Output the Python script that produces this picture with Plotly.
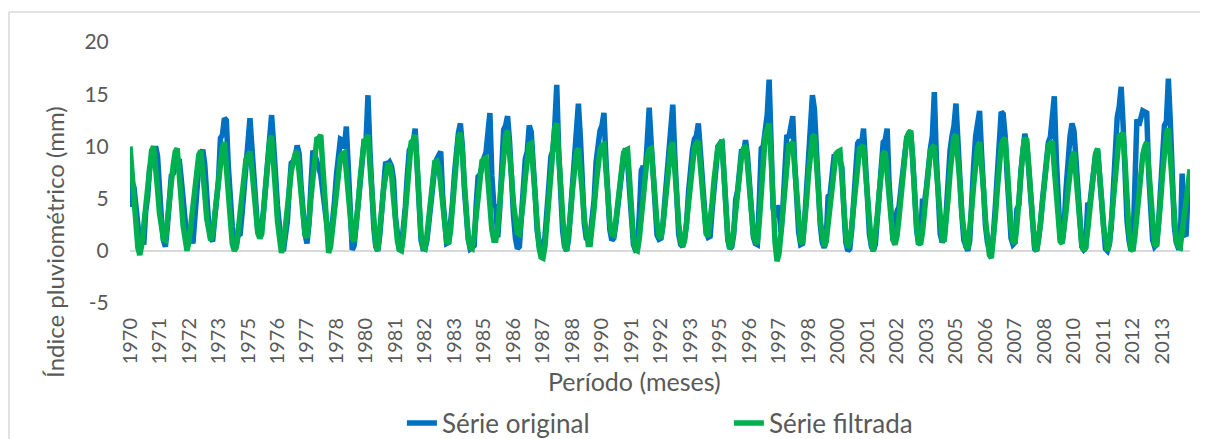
import plotly.graph_objects as go

# índice pluviométrico mensal (mm), jan/1970 a dez/2014
serie_original = [
    4.2, 6.6, 6.1, 4.0, 1.8, 0.7, 1.4, 0.6, 3.8, 5.2, 8.0, 8.3,        # 1970
    9.2, 10.0, 9.1, 5.3, 3.0, 1.0, 0.4, 2.3, 4.6, 7.2, 7.4, 8.1,       # 1971
    8.0, 8.8, 7.0, 4.6, 2.1, 1.0, 1.3, 2.0, 0.7, 3.5, 6.0, 8.2,        # 1972
    9.1, 9.7, 8.3, 5.0, 2.6, 1.2, 0.9, 2.9, 4.8, 6.8, 10.8, 11.1,      # 1973
    12.7, 12.5, 8.1, 4.7, 2.3, 1.0, 0.4, 1.5, 1.6, 3.6, 5.9, 8.2,      # 1974
    9.6, 12.7, 9.9, 6.4, 4.0, 1.8, 1.5, 2.2, 4.1, 6.8, 8.9, 11.2,      # 1975
    13.0, 10.3, 6.7, 4.3, 2.4, 0.4, 0.0, 1.2, 2.8, 5.9, 8.4, 8.6,      # 1976
    9.0, 10.1, 9.3, 6.2, 3.4, 1.6, 0.7, 2.6, 6.2, 9.6, 9.2, 8.3,       # 1977
    7.9, 7.3, 5.6, 3.4, 1.8, 1.1, 0.9, 2.5, 4.8, 7.3, 9.2, 10.7,       # 1978
    10.6, 9.8, 11.9, 7.4, 2.8, 0.1, 0.5, 2.6, 4.4, 6.1, 9.3, 10.4,     # 1979
    10.4, 14.9, 9.6, 5.3, 2.1, 0.4, 0.0, 1.5, 3.9, 6.2, 8.5, 8.3,      # 1980
    8.5, 8.1, 6.8, 3.2, 1.1, 0.0, 0.3, 1.8, 4.2, 7.2, 9.6, 10.1,       # 1981
    10.4, 11.7, 7.8, 3.9, 1.0, 0.2, 0.2, 1.0, 2.9, 5.1, 7.3, 8.0,      # 1982
    8.8, 9.2, 9.5, 5.2, 1.8, 0.7, 0.8, 2.5, 4.6, 7.4, 10.1, 11.3,      # 1983
    12.2, 10.0, 6.0, 3.0, 1.1, 0.2, 0.4, 0.5, 4.3, 7.1, 7.3, 8.4,      # 1984
    8.9, 9.4, 11.0, 13.2, 7.2, 4.4, 4.2, 1.3, 4.0, 7.8, 11.6, 12.0,    # 1985
    12.9, 10.5, 5.8, 3.4, 1.2, 0.2, 0.4, 3.6, 6.4, 8.8, 9.5, 12.0,     # 1986
    11.4, 8.9, 5.4, 2.0, 0.6, 0.5, 0.7, 1.3, 3.3, 6.3, 9.0, 9.6,       # 1987
    12.0, 15.9, 9.4, 5.0, 1.9, 0.4, 0.0, 1.1, 3.6, 6.3, 9.8, 11.5,     # 1988
    14.1, 10.9, 5.5, 2.6, 1.2, 1.0, 1.4, 2.9, 4.9, 8.5, 10.2, 11.5,    # 1989
    12.0, 13.2, 8.8, 4.3, 2.0, 1.0, 1.2, 2.5, 4.2, 6.4, 7.8, 9.1,      # 1990
    9.8, 8.7, 5.8, 3.0, 0.6, 0.1, 0.2, 3.5, 7.7, 8.1, 7.5, 10.4,       # 1991
    13.7, 10.4, 6.6, 3.7, 1.5, 1.1, 1.2, 2.6, 4.9, 7.4, 10.2, 11.6,    # 1992
    14.0, 9.2, 4.6, 1.6, 0.6, 0.4, 1.2, 2.6, 5.6, 8.2, 9.6, 10.7,      # 1993
    11.0, 12.2, 9.6, 5.8, 3.0, 1.8, 1.3, 1.4, 3.9, 6.4, 8.5, 10.0,     # 1994
    10.2, 10.6, 7.5, 3.6, 1.0, 0.2, 0.4, 1.6, 4.9, 5.8, 7.9, 9.7,      # 1995
    9.5, 10.6, 9.1, 6.0, 3.2, 1.3, 0.7, 0.6, 4.8, 9.8, 10.0, 11.2,     # 1996
    13.0, 16.4, 8.2, 4.1, 3.2, 4.3, 4.0, 1.8, 4.2, 7.0, 11.1, 10.8,    # 1997
    11.6, 12.9, 8.4, 4.6, 1.8, 0.6, 0.7, 2.8, 5.6, 8.6, 12.4, 14.9,    # 1998
    13.6, 8.8, 5.0, 2.5, 0.8, 0.3, 1.0, 5.2, 5.4, 7.8, 9.0, 9.0,       # 1999
    9.2, 8.6, 8.0, 3.9, 0.8, 0.0, 0.2, 2.0, 4.4, 7.3, 10.3, 10.6,      # 2000
    10.2, 11.7, 7.6, 4.1, 1.6, 0.4, 0.0, 0.6, 3.2, 6.0, 8.7, 10.4,     # 2001
    10.6, 11.7, 6.4, 2.8, 1.0, 1.6, 3.8, 4.2, 5.6, 7.4, 9.3, 10.8,     # 2002
    11.1, 11.3, 8.9, 5.0, 2.0, 0.6, 1.0, 5.0, 4.6, 6.1, 8.6, 9.8,      # 2003
    11.0, 15.2, 9.0, 4.3, 1.6, 0.8, 1.2, 3.6, 7.0, 9.6, 11.0, 12.0,    # 2004
    14.1, 10.0, 6.2, 3.4, 1.0, 0.3, 0.0, 1.0, 6.1, 8.2, 11.0, 11.9,    # 2005
    13.4, 9.4, 5.2, 2.4, 0.8, 0.1, 0.0, 1.5, 4.2, 7.8, 10.6, 13.3,     # 2006
    13.1, 11.0, 7.2, 4.0, 1.2, 0.6, 0.8, 4.0, 4.4, 7.6, 9.6, 11.2,     # 2007
    10.3, 7.4, 4.2, 1.6, 0.2, 0.0, 1.0, 2.6, 4.9, 7.1, 9.2, 10.4,      # 2008
    10.9, 12.6, 14.8, 9.0, 5.5, 1.2, 0.8, 2.4, 6.0, 9.6, 11.0, 12.2,   # 2009
    11.5, 8.8, 5.5, 2.2, 0.4, 0.1, 0.3, 4.6, 4.3, 6.0, 7.9, 9.2,       # 2010
    9.6, 7.4, 4.6, 1.8, 0.2, 0.0, 0.6, 2.4, 6.0, 9.6, 12.8, 13.8,      # 2011
    15.7, 12.0, 6.8, 2.8, 1.0, 0.0, 0.4, 5.5, 12.6, 12.0, 13.0, 13.4,  # 2012
    13.3, 13.2, 7.4, 3.5, 1.0, 0.4, 0.6, 2.6, 5.8, 9.2, 12.0, 12.4,    # 2013
    16.5, 12.3, 6.0, 2.4, 0.8, 0.3, 0.3, 7.4, 1.6, 1.4, 5.5, 5.5,      # 2014
]

serie_filtrada = [
    10.0, 7.6, 4.8, 2.1, 0.3, -0.4, 0.6, 2.4, 4.5, 6.6, 8.3, 9.6,      # 1970
    10.0, 8.3, 5.9, 3.6, 1.9, 1.1, 1.0, 2.5, 4.5, 6.5, 8.2, 9.5,       # 1971
    9.8, 7.9, 5.0, 2.4, 0.6, 0.0, 0.9, 2.6, 4.6, 6.4, 8.0, 9.2,        # 1972
    9.6, 8.0, 5.5, 3.1, 1.5, 1.0, 1.6, 3.3, 5.2, 7.1, 8.8, 9.9,        # 1973
    10.4, 8.3, 5.4, 2.6, 0.7, 0.0, 0.3, 1.9, 3.9, 5.9, 7.6, 8.8,       # 1974
    9.1, 9.5, 7.8, 5.4, 3.2, 1.7, 1.2, 1.6, 3.9, 6.4, 8.8, 10.5,       # 1975
    11.0, 8.8, 5.7, 2.8, 0.6, -0.2, 0.5, 2.0, 3.9, 5.8, 7.6, 8.9,      # 1976
    9.3, 9.5, 7.4, 4.8, 2.6, 1.5, 1.3, 2.6, 5.0, 7.4, 9.4, 10.7,       # 1977
    10.8, 11.1, 8.2, 4.7, 1.6, -0.2, 0.4, 2.0, 3.9, 5.8, 7.7, 9.0,     # 1978
    9.3, 9.4, 7.6, 5.2, 2.8, 1.2, 0.9, 2.2, 4.4, 6.8, 8.9, 10.5,       # 1979
    10.5, 11.1, 8.2, 4.9, 2.0, 0.5, 0.0, 1.6, 3.9, 6.0, 7.6, 8.2,      # 1980
    8.2, 7.3, 5.0, 2.6, 0.9, 0.1, 0.0, 1.4, 3.6, 6.2, 8.6, 10.4,       # 1981
    10.6, 11.1, 8.3, 4.6, 1.5, 0.3, 0.2, 1.5, 3.5, 5.7, 7.5, 8.5,      # 1982
    8.6, 8.0, 6.4, 4.3, 2.2, 0.9, 0.7, 1.9, 4.2, 6.9, 9.3, 10.9,       # 1983
    11.3, 9.6, 6.6, 3.5, 1.2, 0.3, 0.2, 1.5, 3.6, 5.7, 7.5, 8.6,       # 1984
    8.8, 8.9, 6.8, 4.2, 2.0, 1.0, 1.0, 2.3, 4.6, 7.2, 9.5, 11.1,       # 1985
    11.5, 9.9, 7.2, 4.5, 2.5, 1.7, 1.6, 2.8, 4.8, 7.0, 8.9, 10.2,      # 1986
    10.3, 8.0, 5.0, 2.3, 0.3, -0.6, -0.7, 0.4, 2.6, 5.2, 7.8, 10.2,    # 1987
    11.8, 12.2, 9.0, 5.4, 2.3, 0.5, 0.0, 1.3, 3.5, 5.8, 7.9, 9.4,      # 1988
    9.8, 8.1, 5.6, 3.1, 1.3, 0.6, 0.6, 2.0, 4.1, 6.3, 8.3, 9.7,        # 1989
    10.1, 10.2, 7.8, 5.0, 2.7, 1.6, 1.5, 2.8, 4.7, 6.6, 8.2, 9.4,      # 1990
    9.6, 9.7, 6.9, 3.7, 1.2, 0.1, 0.0, 1.2, 3.3, 5.5, 7.5, 9.0,        # 1991
    9.7, 9.8, 7.5, 4.8, 2.6, 1.4, 1.2, 2.4, 4.4, 6.6, 8.5, 9.9,        # 1992
    10.4, 8.3, 5.3, 2.6, 0.9, 0.4, 1.0, 2.7, 4.7, 6.8, 8.6, 9.9,       # 1993
    10.3, 10.5, 8.2, 5.4, 3.0, 1.6, 1.4, 2.6, 4.6, 6.8, 8.7, 10.0,     # 1994
    10.3, 10.4, 7.4, 3.9, 1.2, 0.2, 0.6, 2.0, 3.9, 5.9, 7.7, 9.1,      # 1995
    9.8, 10.1, 8.2, 5.7, 3.3, 1.6, 0.9, 0.7, 2.8, 5.6, 8.5, 11.0,      # 1996
    11.6, 12.2, 8.8, 4.3, 0.8, -1.0, -0.3, 1.6, 4.1, 6.6, 8.7, 10.1,   # 1997
    10.2, 10.4, 8.0, 5.0, 2.3, 0.9, 0.7, 2.3, 4.7, 7.3, 9.4, 10.9,     # 1998
    11.1, 9.0, 5.9, 2.9, 1.0, 0.4, 0.9, 2.5, 4.4, 6.4, 8.2, 9.3,       # 1999
    9.5, 9.6, 7.0, 4.0, 1.4, 0.3, 0.8, 2.4, 4.4, 6.6, 8.5, 9.8,        # 2000
    9.9, 10.1, 7.6, 4.8, 2.2, 0.6, 0.0, 1.4, 3.4, 5.6, 7.7, 9.3,       # 2001
    9.5, 7.6, 5.0, 2.5, 1.0, 0.6, 1.4, 3.1, 5.2, 7.4, 9.4, 10.9,       # 2002
    11.3, 11.5, 8.6, 5.2, 2.3, 0.8, 0.6, 1.8, 3.9, 6.1, 8.1, 9.6,      # 2003
    9.9, 10.1, 7.8, 5.0, 2.6, 1.1, 0.9, 2.6, 5.0, 7.5, 9.6, 10.9,      # 2004
    11.1, 9.2, 6.4, 3.6, 1.4, 0.4, 0.2, 1.8, 4.0, 6.3, 8.4, 9.9,       # 2005
    10.4, 8.6, 5.9, 3.0, 0.8, -0.4, -0.7, 0.8, 3.2, 5.8, 8.2, 10.1,    # 2006
    10.6, 10.8, 8.2, 5.0, 2.2, 0.9, 0.7, 2.5, 5.0, 7.6, 9.6, 10.8,     # 2007
    10.6, 8.1, 5.0, 2.1, 0.4, 0.0, 1.0, 2.8, 4.9, 7.0, 8.9, 10.1,      # 2008
    10.3, 10.5, 7.9, 4.9, 2.4, 0.9, 0.7, 1.9, 3.8, 5.8, 7.6, 9.0,      # 2009
    9.5, 7.5, 4.8, 2.2, 0.5, 0.0, 0.4, 2.0, 4.0, 6.1, 7.9, 9.3,        # 2010
    9.8, 7.8, 5.0, 2.3, 0.6, 0.0, 0.7, 2.6, 5.0, 7.5, 9.6, 11.0,       # 2011
    11.1, 11.3, 8.4, 4.8, 1.8, 0.2, 0.0, 1.4, 3.4, 5.6, 7.6, 9.2,      # 2012
    10.0, 10.4, 7.9, 4.8, 2.0, 0.6, 0.4, 2.2, 4.6, 7.2, 9.6, 11.3,     # 2013
    11.7, 9.4, 6.2, 3.2, 1.0, 0.4, 0.3, 1.8, 3.6, 5.4, 6.9, 7.8,       # 2014
]

ano_inicial = 1970
passo_rotulo = 15  # o Excel rotula uma categoria a cada 15 meses
y_ticks = [-5, 0, 5, 10, 15, 20]

meses = list(range(len(serie_original)))
tick_pos = meses[::passo_rotulo]
tick_txt = [str(ano_inicial + m // 12) for m in tick_pos]

cinza = '#595959'
borda = '#D9D9D9'
fonte = 'Lato'

fig = go.Figure()
fig.add_trace(go.Scatter(x=meses, y=serie_original, mode='lines', name='Série original',
                         line=dict(color='#0070C0', width=5.5)))
fig.add_trace(go.Scatter(x=meses, y=serie_filtrada, mode='lines', name='Série filtrada',
                         line=dict(color='#00B050', width=5.5)))

# o body da página tem 8 px de margem, por isso as margens são 8 px menores
fig.update_layout(
    width=1192, height=431,
    margin=dict(l=122, r=10, t=34, b=136, autoexpand=False),
    paper_bgcolor='white', plot_bgcolor='white',
    font=dict(family=fonte, size=20, color=cinza),
    showlegend=True,
    legend=dict(orientation='h', x=0.565, y=-0.46, xanchor='center', yanchor='middle',
                bgcolor='rgba(0,0,0,0)',
                font=dict(size=26, color=cinza), entrywidth=282, tracegroupgap=0),
    xaxis=dict(range=[0, len(meses) - 1], tickmode='array', tickvals=tick_pos, ticktext=tick_txt,
               tickangle=-90, showgrid=False, zeroline=False, showline=False,
               ticks='outside', ticklen=6, tickcolor='rgba(0,0,0,0)',
               tickfont=dict(size=20, color=cinza)),
    yaxis=dict(range=[-5, 20], tickmode='array', tickvals=y_ticks,
               ticktext=[str(v) for v in y_ticks], showgrid=False,
               zeroline=True, zerolinecolor=borda, zerolinewidth=2, showline=False,
               ticks='outside', ticklen=16, tickcolor='rgba(0,0,0,0)',
               tickfont=dict(size=21, color=cinza)),
    annotations=[
        dict(text='Índice pluviométrico (mm)', xref='paper', yref='paper', x=-0.0708, y=0.234,
             textangle=-90, showarrow=False, font=dict(size=24, color=cinza),
             xanchor='center', yanchor='middle'),
        dict(text='Período (meses)', xref='paper', yref='paper', x=0.4764, y=-0.30,
             showarrow=False, font=dict(size=25, color=cinza), xanchor='center', yanchor='middle'),
    ],
    shapes=[
        # borda da área do gráfico: só o topo e a esquerda aparecem no recorte
        dict(type='line', xref='paper', yref='paper', x0=-0.1142, x1=1.1, y0=1.1149, y1=1.1149,
             line=dict(color=borda, width=1.5)),
        dict(type='line', xref='paper', yref='paper', x0=-0.1142, x1=-0.1142, y0=-0.6, y1=1.1149,
             line=dict(color=borda, width=1.5)),
    ],
)

fig.write_html('out.html')
